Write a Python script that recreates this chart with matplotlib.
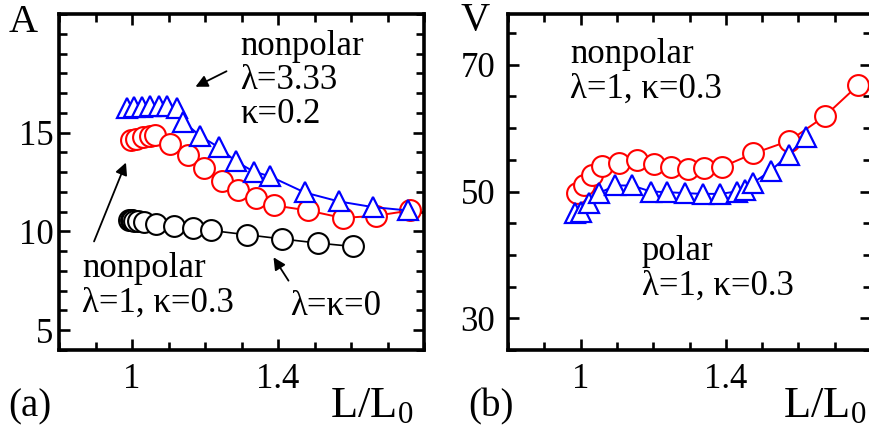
import matplotlib
matplotlib.use("Agg")
import matplotlib.pyplot as plt
from matplotlib.ticker import MultipleLocator, FixedLocator

plt.rcParams['font.family'] = ['Liberation Serif', 'DejaVu Serif']
plt.rcParams['mathtext.fontset'] = 'custom'
plt.rcParams['mathtext.rm'] = 'Liberation Serif'
plt.rcParams['mathtext.it'] = 'Liberation Serif:italic'

# ---------------- data: panel (a) ----------------
a_black_x = [0.991, 0.996, 1.0, 1.006, 1.016, 1.034, 1.067, 1.116, 1.166, 1.216,
             1.315, 1.411, 1.509, 1.605]
a_black_y = [10.59, 10.59, 10.56, 10.54, 10.51, 10.47, 10.39, 10.29, 10.17, 10.05,
             9.83, 9.62, 9.41, 9.24]

a_red_x = [0.996, 1.012, 1.030, 1.048, 1.064, 1.105, 1.153, 1.198, 1.247, 1.290,
           1.340, 1.388, 1.482, 1.577, 1.668, 1.763]
a_red_y = [14.63, 14.68, 14.77, 14.83, 14.88, 14.41, 13.87, 13.20, 12.56, 12.07,
           11.69, 11.32, 11.06, 10.68, 10.79, 11.06]

a_blue_x = [0.986, 1.005, 1.027, 1.050, 1.073, 1.096, 1.122, 1.140, 1.187, 1.237,
            1.285, 1.333, 1.379, 1.473, 1.566, 1.660, 1.756]
a_blue_y = [16.23, 16.28, 16.31, 16.35, 16.35, 16.35, 16.23, 15.56, 14.83, 14.26,
            13.54, 13.03, 12.78, 11.97, 11.52, 11.23, 11.06]

# ---------------- data: panel (b) ----------------
b_red_x = [0.990, 1.009, 1.032, 1.058, 1.107, 1.156, 1.202, 1.248, 1.296, 1.340,
           1.389, 1.476, 1.575, 1.672, 1.765]
b_red_y = [49.75, 51.05, 52.60, 53.95, 54.47, 54.90, 54.40, 53.85, 53.60, 53.70,
           53.85, 56.00, 58.00, 61.85, 66.80]

b_blue_x = [0.985, 1.000, 1.023, 1.050, 1.096, 1.142, 1.193, 1.239, 1.288, 1.336,
            1.384, 1.430, 1.452, 1.476, 1.524, 1.573, 1.620]
b_blue_y = [46.58, 46.84, 48.16, 49.74, 50.95, 50.95, 50.00, 49.90, 49.74, 49.63,
            49.63, 50.00, 50.27, 51.40, 53.30, 55.80, 58.55]

x_major = [1.0, 1.4]
x_major_labels = ['1', '1.4']
a_y_major = [5, 10, 15]
b_y_major = [30, 50, 70]

W, H = 869, 440
fig = plt.figure(figsize=(W / 100, H / 100), dpi=100)


def fx(px):
    return px / W


def fy(py):
    return 1 - py / H


def style_axes(ax, ypad):
    for s in ax.spines.values():
        s.set_linewidth(2.6)
    ax.tick_params(which='both', direction='in', top=True, right=True,
                   width=1.9, labelsize=25)
    ax.tick_params(which='major', length=8)
    ax.tick_params(which='minor', length=6)
    ax.tick_params(axis='x', which='major', pad=9)
    ax.tick_params(axis='y', which='major', pad=ypad)
    ax.xaxis.set_major_locator(FixedLocator(x_major))
    ax.set_xticklabels(x_major_labels)
    ax.xaxis.set_minor_locator(MultipleLocator(0.1))


mk_o = dict(markersize=15, markerfacecolor='white', markeredgewidth=1.5)
mk_t = dict(markersize=15, markerfacecolor='white', markeredgewidth=1.6)

# ---------------- panel (a) ----------------
axA = fig.add_axes([fx(59), fy(350), fx(365), (350 - 14) / H])
axA.plot(a_black_x, a_black_y, '-o', color='black', lw=1.2, **mk_o, zorder=3)
axA.plot(a_red_x, a_red_y, '-o', color='red', lw=1.4, **mk_o, zorder=4)
axA.plot(a_blue_x, a_blue_y, '-^', color='blue', lw=1.4, **mk_t, zorder=5)
axA.set_xlim(0.8, 1.8)
axA.set_ylim(4, 21)
style_axes(axA, 4)
axA.yaxis.set_major_locator(FixedLocator(a_y_major))
axA.yaxis.set_minor_locator(MultipleLocator(1))

# ---------------- panel (b) ----------------
axB = fig.add_axes([fx(508), fy(350), fx(363), (350 - 14) / H])
axB.plot(b_red_x, b_red_y, '-o', color='red', lw=1.4, **mk_o, zorder=4)
axB.plot(b_blue_x, b_blue_y, '-^', color='blue', lw=1.4, **mk_t, zorder=5)
axB.set_xlim(0.8, 1.8)
axB.set_ylim(25, 78)
style_axes(axB, 9)
axB.yaxis.set_major_locator(FixedLocator(b_y_major))
axB.yaxis.set_minor_locator(MultipleLocator(5))

# ---------------- texts ----------------
def T(px, py, s, size=25, **kw):
    fig.text(fx(px), fy(py), s, fontsize=size, va='baseline', ha='left', **kw)


T(9, 32, 'A', size=29)
T(240, 55, 'nonpolar')
T(240, 89, 'λ=3.33')
T(240, 123, 'κ=0.2')
T(82, 277, 'nonpolar')
T(82, 312, 'λ=1, κ=0.3')
T(290, 315, 'λ=κ=0')
T(8, 416, '(a)', size=28)
T(330, 417, r'L/L$_0$', size=32)

T(460, 30, 'V', size=29)
T(570, 63, 'nonpolar')
T(570, 98, 'λ=1, κ=0.3')
T(642, 260, 'polar')
T(642, 295, 'λ=1, κ=0.3')
T(468, 416, '(b)', size=28)
T(783, 417, r'L/L$_0$', size=32)

arrow_kw = dict(arrowstyle='-|>', color='black', lw=1.3, mutation_scale=18)
for (x0, y0, x1, y1) in [(229, 70, 193, 88), (93, 244, 127, 160), (290, 283, 272, 255)]:
    fig.add_artist(matplotlib.patches.FancyArrowPatch(
        (fx(x0), fy(y0)), (fx(x1), fy(y1)), transform=fig.transFigure, **arrow_kw))

fig.savefig('out.png', dpi=100)
